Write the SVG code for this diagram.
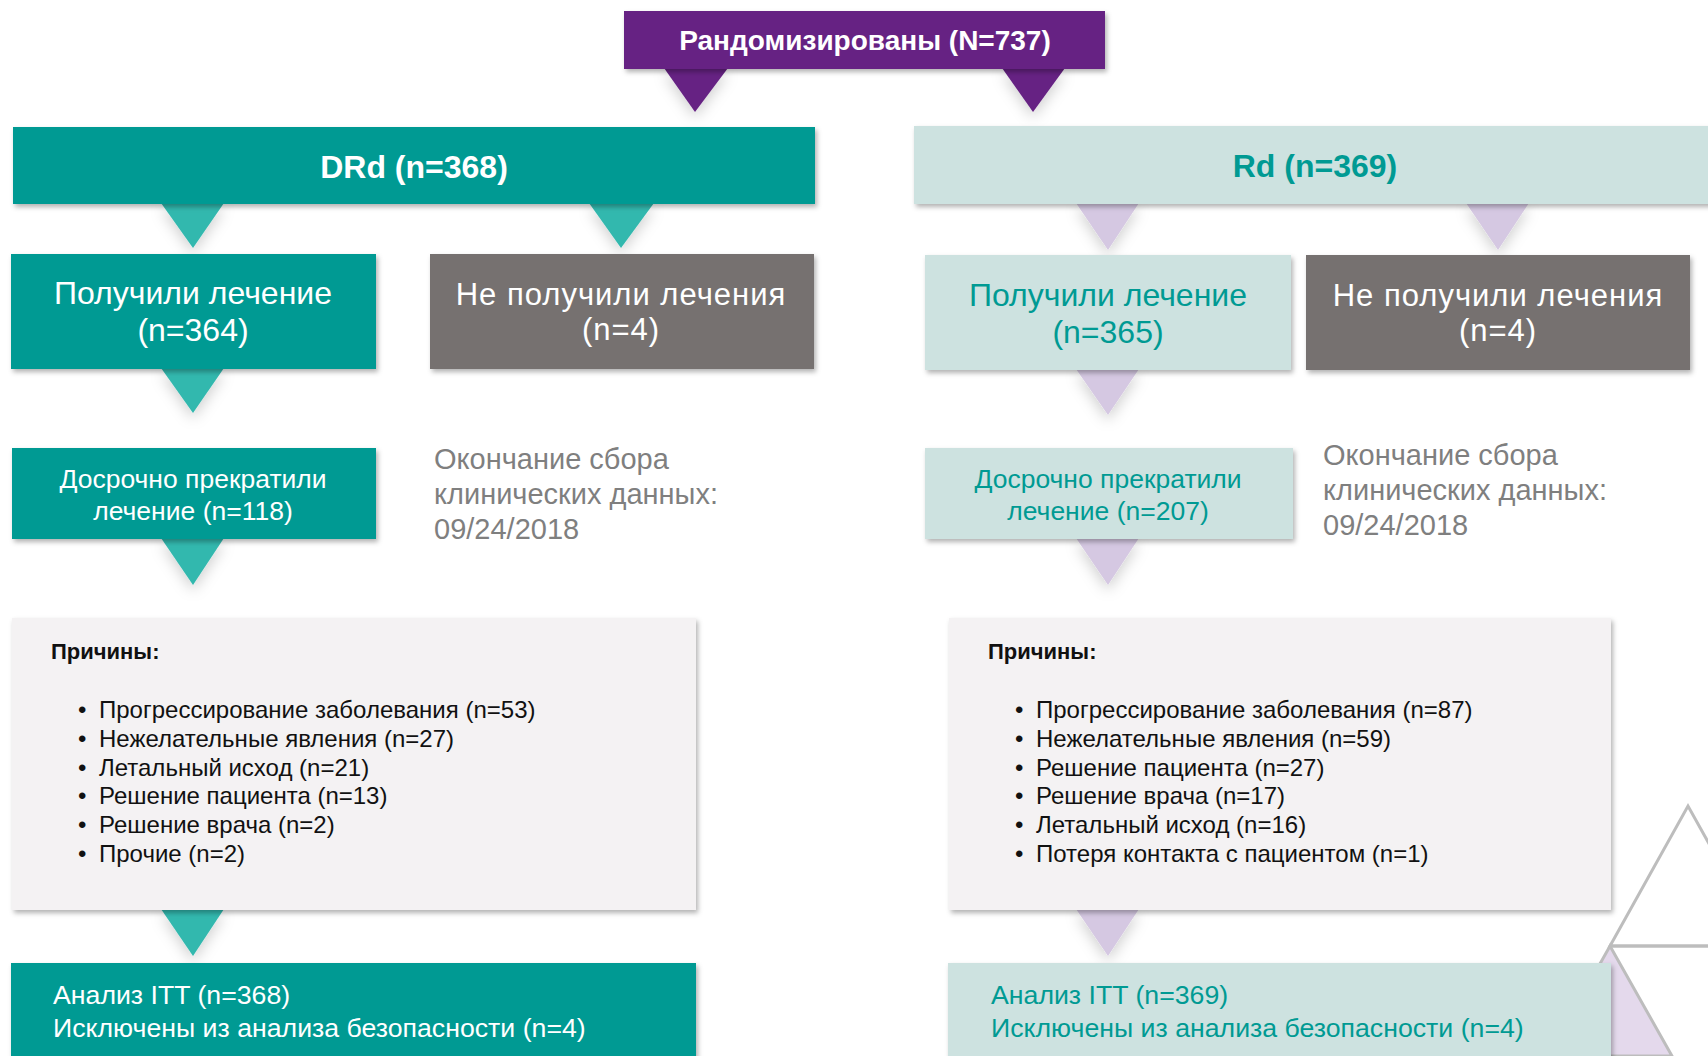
<svg xmlns="http://www.w3.org/2000/svg" width="1708" height="1056" viewBox="0 0 1708 1056">
<defs>
<filter id="sh" x="-10%" y="-10%" width="125%" height="130%">
<feDropShadow dx="2" dy="3" stdDeviation="2.5" flood-color="#000" flood-opacity="0.3"/>
</filter>
<filter id="tsh" x="-60%" y="-40%" width="220%" height="200%">
<feDropShadow dx="0" dy="6" stdDeviation="7" flood-color="#000" flood-opacity="0.18"/>
</filter>
</defs>
<style>
text{font-family:"Liberation Sans",Arial,sans-serif}
.w{fill:#ffffff}
.t{fill:#009a93}
.g{fill:#7f7f7f}
.k{fill:#111111}
.c{text-anchor:middle}
.b{font-weight:bold}
.pur{fill:#662483}
.teal{fill:#009a93}
.lt{fill:#cde2e0}
.gray{fill:#767170}
.pale{fill:#f4f2f3}
.tt{fill:#33b8ae}
.lav{fill:#d5c8e2}
</style>
<rect width="1708" height="1056" fill="#ffffff"/>

<g id="decor" fill="none" stroke="#bdbdbd" stroke-width="3">
<path d="M1548,1056 L1610,946 L1672,1056 Z" fill="#e4d9ec"/>
<path d="M1610,946 L1688,806 L1766,946 Z"/>
<line x1="1610" y1="946" x2="1708" y2="946"/>
</g>

<g id="connectors" filter="url(#tsh)">
<polygon class="pur" points="664,68 728,68 695,112"/>
<polygon class="pur" points="1002,68 1065,68 1033,112"/>
<polygon class="tt" points="161,203 224,203 193,248"/>
<polygon class="tt" points="589,203 654,203 621,248"/>
<polygon class="lav" points="1076,203 1139,203 1108,250"/>
<polygon class="lav" points="1466,203 1529,203 1498,250"/>
<polygon class="tt" points="161,368 224,368 193,413"/>
<polygon class="lav" points="1076,369 1139,369 1108,415"/>
<polygon class="tt" points="161,538 224,538 193,585"/>
<polygon class="lav" points="1076,538 1139,538 1108,585"/>
<polygon class="tt" points="161,909 224,909 193,956"/>
<polygon class="lav" points="1076,909 1139,909 1108,956"/>
</g>

<g id="randomized">
<rect class="pur" x="624" y="11" width="481" height="58" filter="url(#sh)"/>
<text class="w c b" x="865" y="50" font-size="28">Рандомизированы (N=737)</text>
</g>

<g id="drd">
<rect class="teal" x="13" y="127" width="802" height="77" filter="url(#sh)"/>
<text class="w c b" x="414" y="178" font-size="32">DRd (n=368)</text>
</g>

<g id="rd">
<rect class="lt" x="914" y="126" width="800" height="78" filter="url(#sh)"/>
<text class="t c b" x="1315" y="177" font-size="32">Rd (n=369)</text>
</g>

<g id="drd-treated">
<rect class="teal" x="11" y="254" width="365" height="115" filter="url(#sh)"/>
<text class="w c" x="193" y="304" font-size="32">Получили лечение</text>
<text class="w c" x="193" y="341" font-size="32">(n=364)</text>
</g>

<g id="drd-not-treated">
<rect class="gray" x="430" y="254" width="384" height="115" filter="url(#sh)"/>
<text class="w c" x="621" y="305" font-size="31" letter-spacing="1">Не получили лечения</text>
<text class="w c" x="621" y="340" font-size="31" letter-spacing="1">(n=4)</text>
</g>

<g id="rd-treated">
<rect class="lt" x="925" y="255" width="366" height="115" filter="url(#sh)"/>
<text class="t c" x="1108" y="306" font-size="32">Получили лечение</text>
<text class="t c" x="1108" y="343" font-size="32">(n=365)</text>
</g>

<g id="rd-not-treated">
<rect class="gray" x="1306" y="255" width="384" height="115" filter="url(#sh)"/>
<text class="w c" x="1498" y="306" font-size="31" letter-spacing="1">Не получили лечения</text>
<text class="w c" x="1498" y="341" font-size="31" letter-spacing="1">(n=4)</text>
</g>

<g id="drd-discontinued">
<rect class="teal" x="12" y="448" width="364" height="91" filter="url(#sh)"/>
<text class="w c" x="193" y="488" font-size="26.5">Досрочно прекратили</text>
<text class="w c" x="193" y="520" font-size="26.5">лечение (n=118)</text>
</g>

<g id="drd-cutoff">
<text class="g" x="434" y="469" font-size="29">Окончание сбора</text>
<text class="g" x="434" y="504" font-size="29">клинических данных:</text>
<text class="g" x="434" y="539" font-size="29">09/24/2018</text>
</g>

<g id="rd-discontinued">
<rect class="lt" x="925" y="448" width="368" height="91" filter="url(#sh)"/>
<text class="t c" x="1108" y="488" font-size="26.5">Досрочно прекратили</text>
<text class="t c" x="1108" y="520" font-size="26.5">лечение (n=207)</text>
</g>

<g id="rd-cutoff">
<text class="g" x="1323" y="465" font-size="29">Окончание сбора</text>
<text class="g" x="1323" y="500" font-size="29">клинических данных:</text>
<text class="g" x="1323" y="535" font-size="29">09/24/2018</text>
</g>

<g id="drd-reasons">
<rect class="pale" x="12" y="618" width="684" height="292" filter="url(#sh)"/>
<text class="k b" x="51" y="659" font-size="22">Причины:</text>
<g class="k" font-size="24">
<text x="78" y="718">•</text><text x="99" y="718">Прогрессирование заболевания (n=53)</text>
<text x="78" y="747">•</text><text x="99" y="747">Нежелательные явления (n=27)</text>
<text x="78" y="776">•</text><text x="99" y="776">Летальный исход (n=21)</text>
<text x="78" y="804">•</text><text x="99" y="804">Решение пациента (n=13)</text>
<text x="78" y="833">•</text><text x="99" y="833">Решение врача (n=2)</text>
<text x="78" y="862">•</text><text x="99" y="862">Прочие (n=2)</text>
</g>
</g>

<g id="rd-reasons">
<rect class="pale" x="949" y="618" width="662" height="292" filter="url(#sh)"/>
<text class="k b" x="988" y="659" font-size="22">Причины:</text>
<g class="k" font-size="24">
<text x="1015" y="718">•</text><text x="1036" y="718">Прогрессирование заболевания (n=87)</text>
<text x="1015" y="747">•</text><text x="1036" y="747">Нежелательные явления (n=59)</text>
<text x="1015" y="776">•</text><text x="1036" y="776">Решение пациента (n=27)</text>
<text x="1015" y="804">•</text><text x="1036" y="804">Решение врача (n=17)</text>
<text x="1015" y="833">•</text><text x="1036" y="833">Летальный исход (n=16)</text>
<text x="1015" y="862">•</text><text x="1036" y="862">Потеря контакта с пациентом (n=1)</text>
</g>
</g>

<g id="drd-itt">
<rect class="teal" x="11" y="963" width="685" height="100" filter="url(#sh)"/>
<text class="w" x="53" y="1004" font-size="26.7">Анализ ITT (n=368)</text>
<text class="w" x="53" y="1037" font-size="26.7">Исключены из анализа безопасности (n=4)</text>
</g>

<g id="rd-itt">
<rect class="lt" x="948" y="963" width="663" height="100" filter="url(#sh)"/>
<text class="t" x="991" y="1004" font-size="26.7">Анализ ITT (n=369)</text>
<text class="t" x="991" y="1037" font-size="26.7">Исключены из анализа безопасности (n=4)</text>
</g>
</svg>
